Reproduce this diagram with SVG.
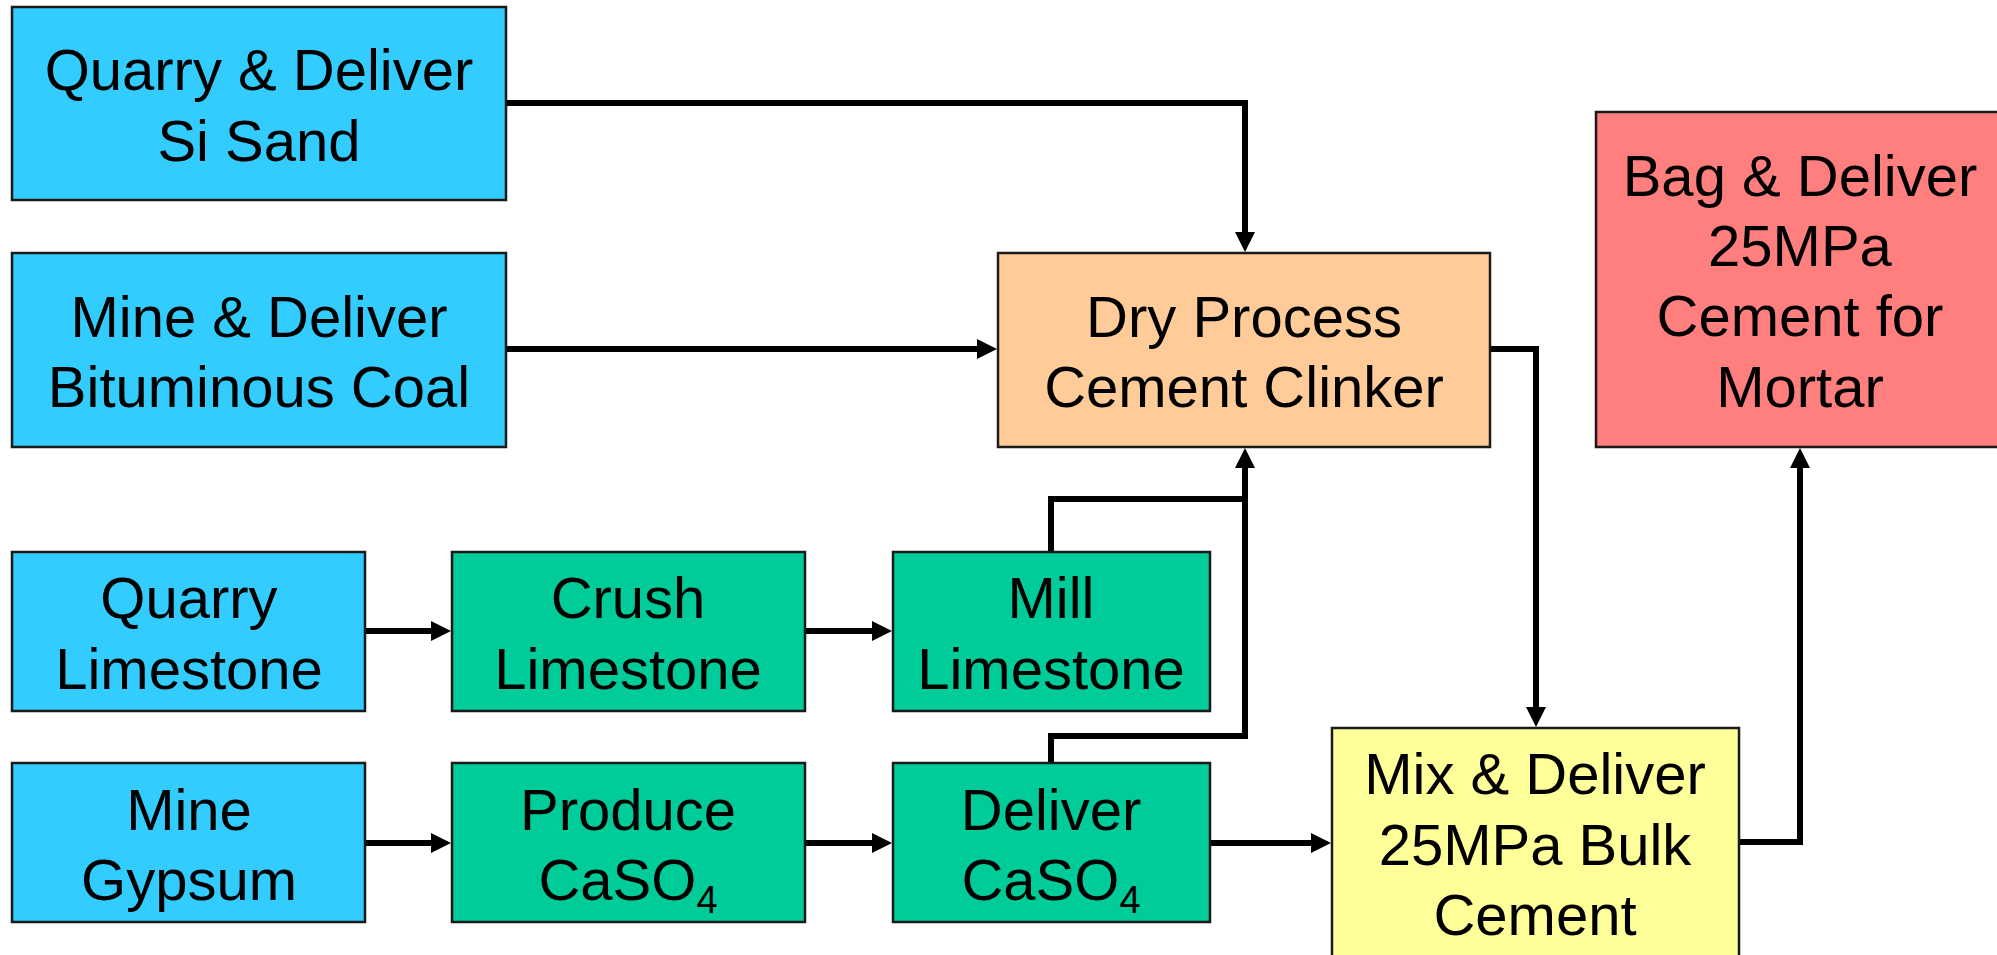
<svg xmlns="http://www.w3.org/2000/svg" width="1997" height="955" viewBox="0 0 1997 955">
<style>
.box{stroke:#1a1a1a;stroke-width:2.5}
.src{fill:#33CCFF}
.proc{fill:#00CC99}
.clk{fill:#FFCC99}
.bag{fill:#FF7F7F}
.mix{fill:#FFFF99}
text{font-family:"Liberation Sans",Arial,sans-serif;font-size:58px;fill:#000;text-anchor:middle}
.sub{font-size:38px}
.conn{fill:none;stroke:#000;stroke-width:6;stroke-linejoin:miter}
</style>
<defs>
<marker id="ah" markerUnits="userSpaceOnUse" viewBox="0 0 20 20" refX="1" refY="10" markerWidth="20" markerHeight="20" orient="auto">
<path d="M0,0 L20,10 L0,20 z" fill="#000"/>
</marker>
</defs>
<rect width="1997" height="955" fill="#fff"/>
<g id="connectors">
<path class="conn" d="M506,103 H1245 V233" marker-end="url(#ah)"/>
<path class="conn" d="M506,349 H978" marker-end="url(#ah)"/>
<path class="conn" d="M1490,349 H1536 V708" marker-end="url(#ah)"/>
<path class="conn" d="M1739,842 H1800 V467" marker-end="url(#ah)"/>
<path class="conn" d="M365,631 H432" marker-end="url(#ah)"/>
<path class="conn" d="M805,631 H873" marker-end="url(#ah)"/>
<path class="conn" d="M365,843 H432" marker-end="url(#ah)"/>
<path class="conn" d="M805,843 H873" marker-end="url(#ah)"/>
<path class="conn" d="M1210,843 H1312" marker-end="url(#ah)"/>
<path class="conn" d="M1051,553 V499 H1248"/>
<path class="conn" d="M1051,763 V736 H1245 V467" marker-end="url(#ah)"/>
</g>
<g id="sand">
<rect class="box src" x="12" y="7" width="494" height="193"/>
<text x="259" y="90">Quarry &amp; Deliver</text>
<text x="259" y="161">Si Sand</text>
</g>
<g id="coal">
<rect class="box src" x="12" y="253" width="494" height="194"/>
<text x="259" y="337">Mine &amp; Deliver</text>
<text x="259" y="407">Bituminous Coal</text>
</g>
<g id="clinker">
<rect class="box clk" x="998" y="253" width="492" height="194"/>
<text x="1244" y="337">Dry Process</text>
<text x="1244" y="407">Cement Clinker</text>
</g>
<g id="bag">
<rect class="box bag" x="1596" y="112" width="410" height="335"/>
<text x="1800" y="196">Bag &amp; Deliver</text>
<text x="1800" y="266">25MPa</text>
<text x="1800" y="336">Cement for</text>
<text x="1800" y="407">Mortar</text>
</g>
<g id="quarry-limestone">
<rect class="box src" x="12" y="552" width="353" height="159"/>
<text x="189" y="618">Quarry</text>
<text x="189" y="689">Limestone</text>
</g>
<g id="crush-limestone">
<rect class="box proc" x="452" y="552" width="353" height="159"/>
<text x="628" y="618">Crush</text>
<text x="628" y="689">Limestone</text>
</g>
<g id="mill-limestone">
<rect class="box proc" x="893" y="552" width="317" height="159"/>
<text x="1051" y="618">Mill</text>
<text x="1051" y="689">Limestone</text>
</g>
<g id="mine-gypsum">
<rect class="box src" x="12" y="763" width="353" height="159"/>
<text x="189" y="830">Mine</text>
<text x="189" y="900">Gypsum</text>
</g>
<g id="produce-caso4">
<rect class="box proc" x="452" y="763" width="353" height="159"/>
<text x="628" y="830">Produce</text>
<text x="628" y="900">CaSO<tspan class="sub" dy="13">4</tspan></text>
</g>
<g id="deliver-caso4">
<rect class="box proc" x="893" y="763" width="317" height="159"/>
<text x="1051" y="830">Deliver</text>
<text x="1051" y="900">CaSO<tspan class="sub" dy="13">4</tspan></text>
</g>
<g id="mix">
<rect class="box mix" x="1332" y="728" width="407" height="240"/>
<text x="1535" y="794">Mix &amp; Deliver</text>
<text x="1535" y="865">25MPa Bulk</text>
<text x="1535" y="935">Cement</text>
</g>
</svg>
